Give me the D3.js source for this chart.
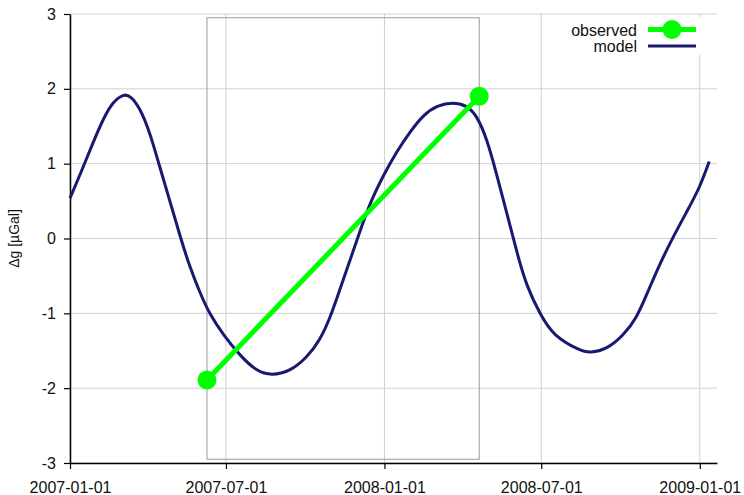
<!DOCTYPE html>
<html>
<head>
<meta charset="utf-8">
<script src="https://cdn.jsdelivr.net/npm/d3@7"></script>
<style>
  body { margin: 0; background: #fff; }
  svg { display: block; font-family: "Liberation Sans", Arial, sans-serif; }
</style>
</head>
<body>
<svg id="chart" width="744" height="495"></svg>
<script>
// model curve
const modelDates = ["2007-01-01","2007-01-13","2007-01-28","2007-02-09","2007-02-20","2007-03-04","2007-03-12","2007-03-23","2007-04-04","2007-04-15","2007-04-27","2007-05-09","2007-05-20","2007-06-01","2007-06-12","2007-06-28","2007-07-17","2007-08-06","2007-08-23","2007-09-13","2007-10-03","2007-10-18","2007-10-30","2007-11-10","2007-11-22","2007-12-04","2007-12-15","2007-12-31","2008-01-15","2008-01-31","2008-02-15","2008-03-02","2008-03-21","2008-04-05","2008-04-17","2008-04-29","2008-05-10","2008-05-22","2008-06-03","2008-06-14","2008-06-30","2008-07-15","2008-08-15","2008-08-27","2008-09-15","2008-10-04","2008-10-20","2008-11-01","2008-11-16","2008-12-01","2008-12-17","2009-01-01","2009-01-12"];
const modelValues = [0.54,0.86,1.29,1.61,1.83,1.93,1.91,1.75,1.41,0.96,0.50,0.02,-0.38,-0.73,-1.01,-1.29,-1.56,-1.78,-1.83,-1.78,-1.59,-1.36,-1.06,-0.69,-0.29,0.11,0.47,0.85,1.16,1.43,1.65,1.78,1.82,1.78,1.65,1.33,0.87,0.34,-0.20,-0.64,-1.02,-1.30,-1.50,-1.53,-1.48,-1.30,-1.06,-0.73,-0.33,0.02,0.36,0.68,1.03];

// observations
const obsDates = ["2007-06-09","2008-04-20"];
const obsValues = [-1.89, 1.90];

// observation window
const windowValues = [-2.95, 2.95];

const xTicks = ["2007-01-01","2007-07-01","2008-01-01","2008-07-01","2009-01-01"];
const yTicks = [-3,-2,-1,0,1,2,3];
const xDomain = ["2007-01-01","2009-01-21"];
const yDomain = [-3, 3];

const parse = d3.utcParse("%Y-%m-%d");
const fmt = d3.utcFormat("%Y-%m-%d");

const svg = d3.select("#chart");
const plotLeft = 70, plotRight = 717, plotTop = 14, plotBottom = 463;

const x = d3.scaleUtc().domain(xDomain.map(parse)).range([plotLeft, plotRight]);
const y = d3.scaleLinear().domain(yDomain).range([plotBottom, plotTop]);

const model = modelDates.map((d, i) => ({ date: parse(d), value: modelValues[i] }));
const observed = obsDates.map((d, i) => ({ date: parse(d), value: obsValues[i] }));

// grid
const grid = svg.append("g").attr("stroke", "#d0d0d0").attr("stroke-width", 1);
grid.selectAll(".hg").data(yTicks).enter().append("line")
  .attr("x1", plotLeft).attr("x2", plotRight)
  .attr("y1", d => y(d)).attr("y2", d => y(d));
grid.selectAll(".vg").data(xTicks).enter().append("line")
  .attr("x1", d => x(parse(d))).attr("x2", d => x(parse(d)))
  .attr("y1", plotTop).attr("y2", plotBottom);

// observation window box
svg.append("rect")
  .attr("x", x(observed[0].date))
  .attr("y", y(windowValues[1]))
  .attr("width", x(observed[1].date) - x(observed[0].date))
  .attr("height", y(windowValues[0]) - y(windowValues[1]))
  .attr("fill", "none")
  .attr("stroke", "#999")
  .attr("stroke-width", 1);

// axes
const xAxis = svg.append("g")
  .attr("transform", `translate(0,${plotBottom})`)
  .call(d3.axisBottom(x).tickValues(xTicks.map(parse)).tickFormat(fmt).tickSize(6).tickSizeOuter(0));
const yAxis = svg.append("g")
  .attr("transform", `translate(${plotLeft},0)`)
  .call(d3.axisLeft(y).tickValues(yTicks).tickFormat(d => String(d)).tickSize(6).tickSizeOuter(0));

[xAxis, yAxis].forEach(a => {
  a.select(".domain").attr("stroke", "#000").attr("stroke-width", 1.5);
  a.selectAll(".tick line").attr("stroke", "#000").attr("stroke-width", 1.2);
  a.selectAll("text").attr("fill", "#111").style("font-size", "16px")
    .style("font-family", "'Liberation Sans', Arial, sans-serif");
});
xAxis.selectAll("text").attr("dy", null).attr("y", 30);
yAxis.selectAll("text").attr("x", -14);

// y label
svg.append("text")
  .attr("transform", `translate(19,${(plotTop + plotBottom) / 2}) rotate(-90)`)
  .attr("text-anchor", "middle")
  .style("font-size", "14px")
  .attr("fill", "#111")
  .text("Δg [µGal]");

// model line
svg.append("path")
  .datum(model)
  .attr("fill", "none")
  .attr("stroke", "#191970")
  .attr("stroke-width", 3)
  .attr("stroke-linejoin", "round")
  .attr("d", d3.line().x(d => x(d.date)).y(d => y(d.value)).curve(d3.curveBasis));

// observed line + markers
svg.append("path")
  .datum(observed)
  .attr("fill", "none")
  .attr("stroke", "#00ff00")
  .attr("stroke-width", 5)
  .attr("d", d3.line().x(d => x(d.date)).y(d => y(d.value)));
svg.selectAll(".obs").data(observed).enter().append("circle")
  .attr("cx", d => x(d.date)).attr("cy", d => y(d.value))
  .attr("r", 9.5).attr("fill", "#00ff00");

// legend
const lg = svg.append("g");
lg.append("rect").attr("x", 560).attr("y", 17).attr("width", 144).attr("height", 38).attr("fill", "#fff");
const legendItems = [
  { label: "observed", color: "#00ff00", width: 5, dot: true },
  { label: "model", color: "#191970", width: 3, dot: false }
];
legendItems.forEach((it, i) => {
  const cy = 29.5 + i * 16.5;
  lg.append("text")
    .attr("x", 637).attr("y", cy + 6)
    .attr("text-anchor", "end")
    .style("font-size", "16px")
    .attr("fill", "#111")
    .text(it.label);
  lg.append("line")
    .attr("x1", 648).attr("x2", 696).attr("y1", cy).attr("y2", cy)
    .attr("stroke", it.color).attr("stroke-width", it.width);
  if (it.dot) lg.append("circle").attr("cx", 672).attr("cy", cy).attr("r", 9.5).attr("fill", it.color);
});
</script>
</body>
</html>
